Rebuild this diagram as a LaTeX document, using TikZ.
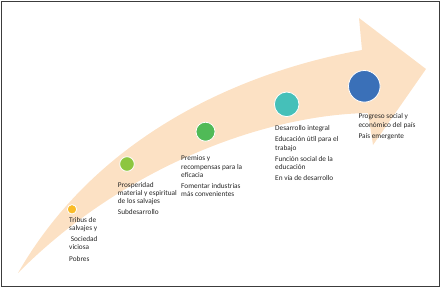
\documentclass[tikz,border=0pt]{standalone}
\usepackage{fontspec}
\setmainfont{Carlito}
\usepackage{tikz}

\definecolor{bandpeach}{RGB}{252,225,196}
\definecolor{dotgold}{RGB}{249,187,40}
\definecolor{dotlime}{RGB}{141,198,63}
\definecolor{dotgreen}{RGB}{80,186,87}
\definecolor{dotteal}{RGB}{69,192,185}
\definecolor{dotblue}{RGB}{58,112,184}
\definecolor{textgray}{RGB}{38,38,38}
\definecolor{framegray}{RGB}{60,60,60}

\begin{document}
\begin{tikzpicture}[x=1pt, y=-1pt,
  dot/.style={circle, draw=white, line width=0.8pt, inner sep=0pt},
  note/.style={anchor=north west, align=left, inner sep=0pt, text=textgray,
    font=\fontsize{7.3}{8.2}\selectfont}]
  \useasboundingbox (0,0) rectangle (443,289);
  % Frame
  \draw[framegray, line width=1pt] (1,1) rectangle (439.5,286.5);
  % Curved arrow (shaft + head)
  \fill[bandpeach] (18,273) .. controls (100,130) and (250,70) .. (362,50)
    -- (359,18) -- (426,69) -- (373,145) -- (368,113)
    .. controls (260,115) and (120,170) .. (18,273) -- cycle;
  % Stages, small to large
  \node[dot, fill=dotgold,  minimum size=9.4pt]  (c1) at (72,209.3) {};
  \node[dot, fill=dotlime,  minimum size=14.6pt] (c2) at (127,164) {};
  \node[dot, fill=dotgreen, minimum size=19pt]   (c3) at (205.5,131.7) {};
  \node[dot, fill=dotteal,  minimum size=24.6pt] (c4) at (286.7,104.3) {};
  \node[dot, fill=dotblue,  minimum size=31.6pt] (c5) at (364.3,86.3) {};
  % Labels
  \node[note] (t1) at (69,217) {Tribus de\\salvajes y\\[3.1pt]
    \hspace{1.6pt}Sociedad\\viciosa\\[3.1pt]Pobres};
  \node[note] (t2) at (117.7,182) {Prosperidad\\material y espiritual\\de los salvajes\\[3.1pt]
    Subdesarrollo};
  \node[note] (t3) at (181,155.7) {Premios y\\recompensas para la\\eficacia\\[3.1pt]
    Fomentar industrias\\más convenientes};
  \node[note] (t4) at (275,125.3) {Desarrollo integral\\[3.1pt]Educación útil para el\\trabajo\\[3.1pt]
    Función social de la\\educación\\[3.1pt]En vía de desarrollo};
  \node[note] (t5) at (358.3,113.7) {Progreso social y\\económico del país\\[3.1pt]
    País emergente};
\end{tikzpicture}
\end{document}
